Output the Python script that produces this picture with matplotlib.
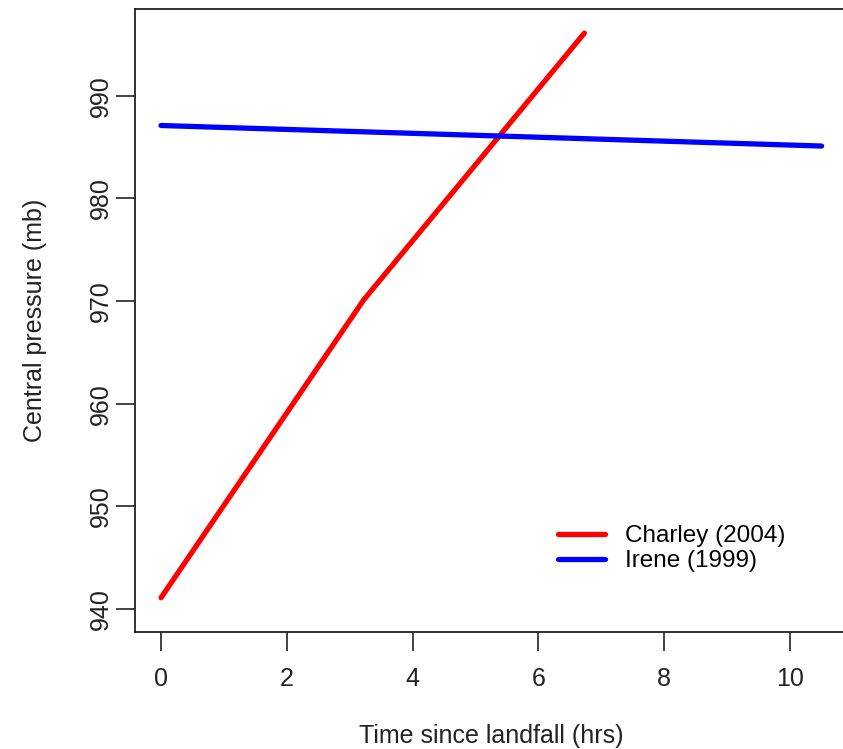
import matplotlib.pyplot as plt

plt.rcParams['font.family'] = ['Liberation Sans', 'DejaVu Sans']

# data
charley_t = [0, 3.22, 6.73]
charley_p = [941.1, 970.1, 996.1]
irene_t = [0, 10.5]
irene_p = [987.1, 985.1]

fig = plt.figure(figsize=(8.43, 7.49), dpi=100)
# axes box runs past the right edge of the picture, as in the reference
ax = fig.add_axes([134.6 / 843, 117 / 749, (848 - 134.6) / 843, 623 / 749])

ax.plot(charley_t, charley_p, color='#ff0000', lw=3.8, solid_capstyle='round',
        label='Charley (2004)')
ax.plot(irene_t, irene_p, color='#0000ff', lw=3.8, solid_capstyle='round',
        label='Irene (1999)')

ax.set_xlim(-0.42, 10.92)
ax.set_ylim(937.76, 998.45)
ax.set_xticks([0, 2, 4, 6, 8, 10])
ax.set_yticks([940, 950, 960, 970, 980, 990])
ax.tick_params(length=14, width=1.2, labelsize=18, color='#222222',
               labelcolor='#222222')
ax.tick_params(axis='x', pad=11)
ax.tick_params(axis='y', pad=2)
for lab in ax.get_yticklabels():
    lab.set_rotation(90)
    lab.set_va('center')
for s in ax.spines.values():
    s.set_linewidth(1.3)
    s.set_color('#222222')

ax.set_xlabel('Time since landfall (hrs)', fontsize=18, labelpad=24, color='#222222')
ax.set_ylabel('Central pressure (mb)', fontsize=18, labelpad=30, color='#222222')

ax.legend(loc='lower left', bbox_to_anchor=((548 - 134.6) / 713.4, 0.08),
          frameon=False, fontsize=17.5, handlelength=1.95, handletextpad=0.8,
          labelspacing=0.14, borderaxespad=0)

fig.savefig('out.png', dpi=100)
